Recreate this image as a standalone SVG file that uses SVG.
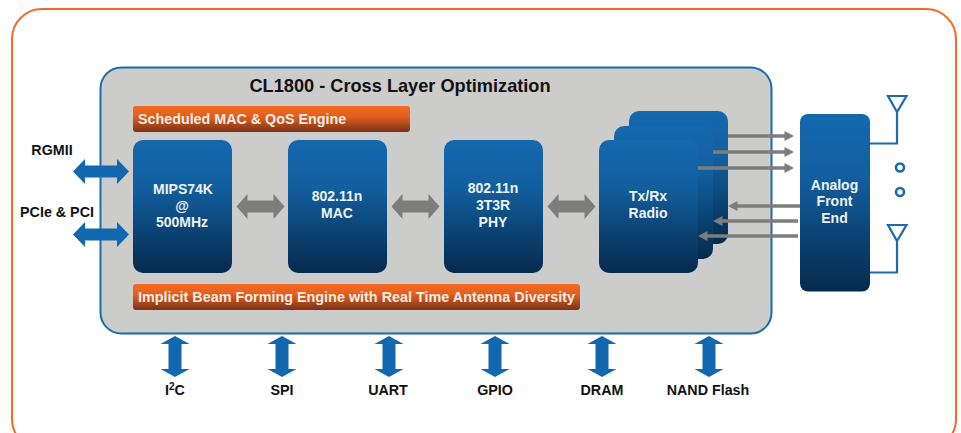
<svg xmlns="http://www.w3.org/2000/svg" width="961" height="433" viewBox="0 0 961 433">
<style>
text{font-family:"Liberation Sans",Arial,sans-serif;font-weight:700;text-anchor:middle}
.b{fill:url(#blue)}
.w{fill:#eef2f6;font-size:14px}
.k{fill:#111;font-size:14.300px}
.o{fill:url(#orange)}
.ot{fill:#f7ece4;font-size:14.300px;text-anchor:start}
.ba{fill:#1268ae}
.ga{fill:#7d7d7d}
.gl{stroke:#7d7d7d;stroke-width:3.300;fill:none}
.ant{stroke:#1a6cad;stroke-width:2.200;fill:none}
</style>
<defs>
<linearGradient id="blue" x1="0" y1="0" x2="0" y2="1"><stop offset="0" stop-color="#1468ae"/><stop offset=".35" stop-color="#125f9f"/><stop offset="1" stop-color="#052a4e"/></linearGradient>
<linearGradient id="orange" x1="0" y1="0" x2="0" y2="1"><stop offset="0" stop-color="#f56a22"/><stop offset=".4" stop-color="#e25f20"/><stop offset="1" stop-color="#7a3318"/></linearGradient>
<path id="h" class="ba" d="M-28 0L-16 -12.500V-6H16V-12.500L28 0L16 12.500V6H-16V12.500Z"/>
<path id="hg" class="ga" d="M-24 0L-13 -12.500V-6H13V-12.500L24 0L13 12.500V6H-13V12.500Z"/>
<path id="v" class="ba" d="M0 -20.500L14.500 -12.500H6.500V12.500H14.500L0 20.500L-14.500 12.500H-6.500V-12.500H-14.500Z"/>
<path id="ah" class="ga" d="M0 0L-9.500 -5V5Z"/>
</defs>
<rect width="961" height="433" fill="#fff"/>
<g id="frame"><rect x="12" y="9" width="944" height="440" rx="30" fill="#fff" stroke="#f26b2a" stroke-width="2"/></g>
<g id="chip"><rect x="100.500" y="67.500" width="671" height="266" rx="21" fill="#cccccb" stroke="#1a6cad" stroke-width="2"/>
<text x="400" y="92" style="font-size:18.200px" fill="#111">CL1800 - Cross Layer Optimization</text></g>
<g id="connectors">
<use href="#h" x="101" y="171.500"/><use href="#h" x="101" y="234.500"/>
<use href="#hg" x="260.500" y="206.500"/><use href="#hg" x="415.500" y="206.500"/><use href="#hg" x="571.500" y="206.500"/>
<use href="#v" x="175" y="356.500"/><use href="#v" x="282" y="356.500"/><use href="#v" x="389" y="356.500"/><use href="#v" x="495" y="356.500"/><use href="#v" x="602" y="356.500"/><use href="#v" x="709" y="356.500"/>
</g>
<g id="scheduled"><rect class="o" x="133" y="106" width="277" height="26" rx="3"/><text class="ot" x="138" y="124">Scheduled MAC &amp; QoS Engine</text></g>
<g id="implicit"><rect class="o" x="133" y="284" width="447" height="26" rx="3"/><text class="ot" x="138" y="302" textLength="437" lengthAdjust="spacingAndGlyphs">Implicit Beam Forming Engine with Real Time Antenna Diversity</text></g>
<g id="mips"><rect class="b" x="133" y="140" width="99" height="133" rx="10"/><text class="w" x="183" y="194">MIPS74K</text><text class="w" x="182" y="211">@</text><text class="w" x="182" y="227">500MHz</text></g>
<g id="mac"><rect class="b" x="288" y="140" width="99" height="133" rx="10"/><text class="w" x="337" y="201">802.11n</text><text class="w" x="337" y="218">MAC</text></g>
<g id="phy"><rect class="b" x="444" y="140" width="99" height="133" rx="10"/><text class="w" x="493" y="193">802.11n</text><text class="w" x="493" y="210">3T3R</text><text class="w" x="493" y="227">PHY</text></g>
<g id="radio"><rect class="b" x="629" y="111" width="99" height="133" rx="10"/><rect class="b" x="614" y="126" width="99" height="133" rx="10"/><rect class="b" x="599" y="140" width="99" height="133" rx="10"/><text class="w" x="648" y="201">Tx/Rx</text><text class="w" x="648" y="218">Radio</text></g>
<g id="radio-links">
<path class="gl" d="M728 136H786M713 152H786M698 168H786M800 206H736M798 221H721M798 236H706"/>
<use href="#ah" x="794" y="136"/><use href="#ah" x="794" y="152"/><use href="#ah" x="794" y="168"/>
<use href="#ah" transform="translate(728 206) scale(-1 1)"/><use href="#ah" transform="translate(713 221) scale(-1 1)"/><use href="#ah" transform="translate(698 236) scale(-1 1)"/>
</g>
<g id="afe"><rect class="b" x="800" y="114" width="70" height="177.500" rx="8"/><text class="w" x="834.500" y="190">Analog</text><text class="w" x="834.500" y="206">Front</text><text class="w" x="834.500" y="223">End</text></g>
<g id="antennas">
<path class="ant" d="M870 143.500H897V112M888 96H906.500L897 112ZM870 272.500H897V241M888 225H906.500L897 241Z"/>
<circle class="ant" cx="900" cy="167.500" r="4" style="stroke-width:2.600"/><circle class="ant" cx="900" cy="192" r="4" style="stroke-width:2.600"/>
</g>
<g id="labels">
<text class="k" x="52" y="155">RGMII</text><text class="k" x="57" y="217">PCIe &amp; PCI</text>
<text class="k" x="175" y="395">I<tspan dy="-5" style="font-size:10px">2</tspan><tspan dy="5">C</tspan></text>
<text class="k" x="282" y="395">SPI</text><text class="k" x="388" y="395">UART</text><text class="k" x="495" y="395">GPIO</text><text class="k" x="602" y="395">DRAM</text><text class="k" x="708" y="395">NAND Flash</text>
</g>
</svg>
